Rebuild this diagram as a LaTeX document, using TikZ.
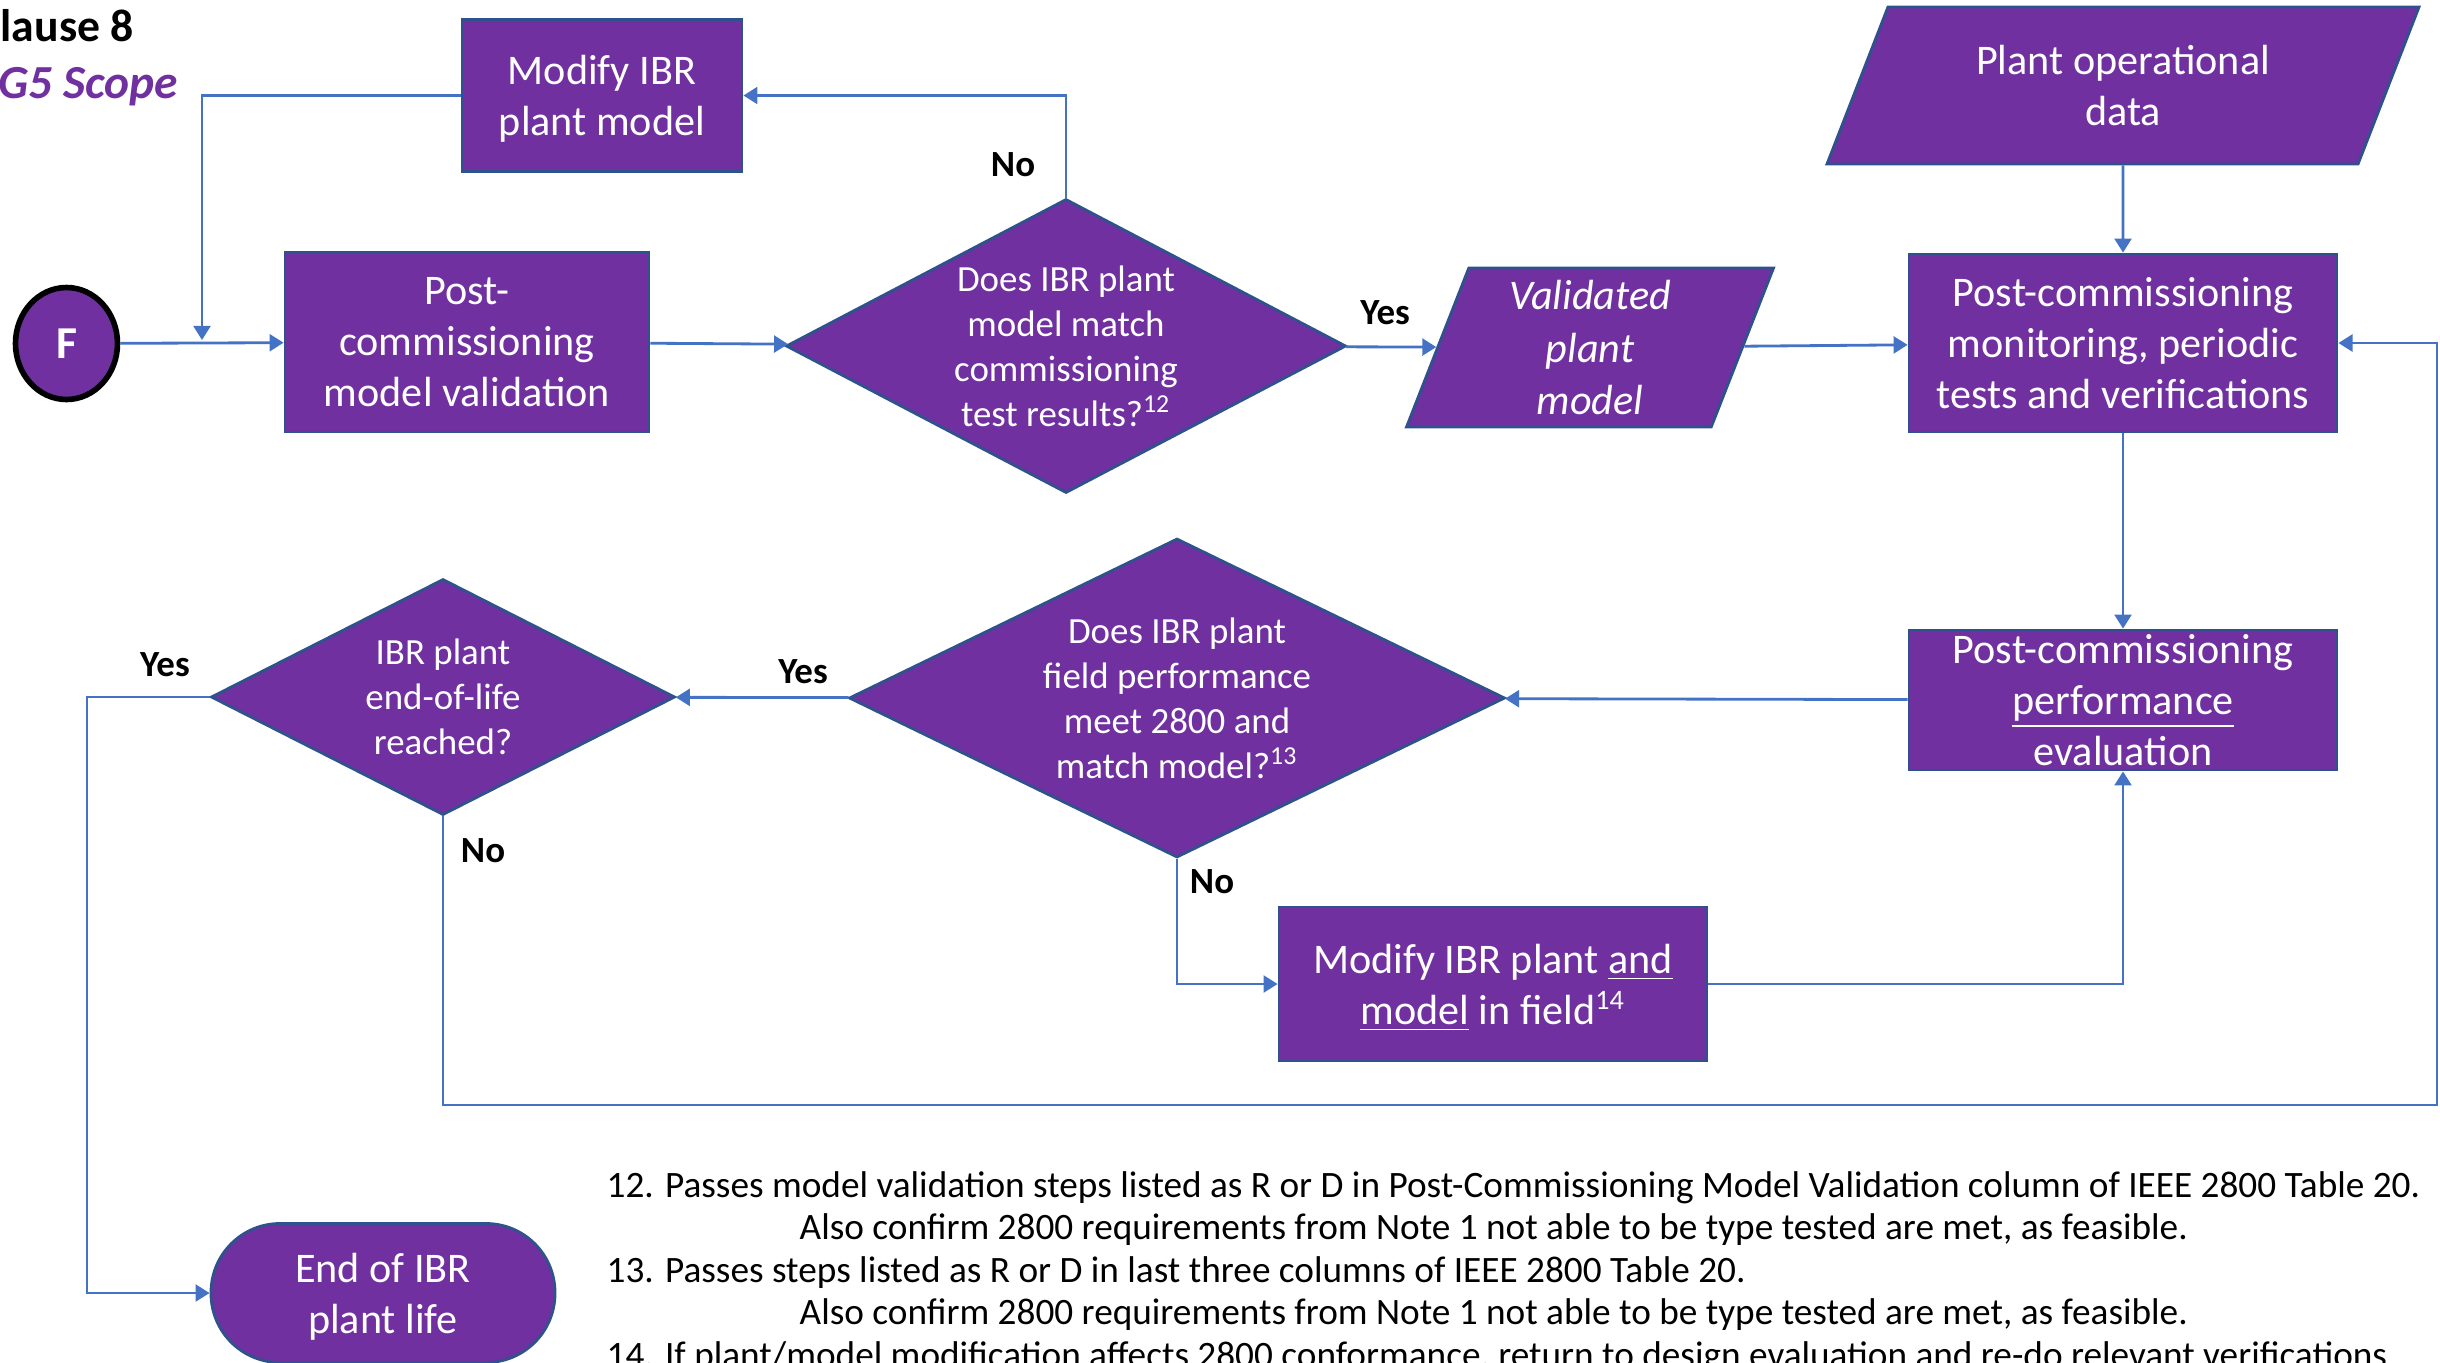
\documentclass[tikz,border=0pt]{standalone}
\usepackage{fontspec}
\setmainfont{Carlito}
\usepackage{tikz}
\usetikzlibrary{shapes.geometric,arrows.meta}
\definecolor{ibrpurple}{HTML}{7030A0}
\definecolor{boxedge}{HTML}{2F528F}
\definecolor{linkblue}{HTML}{4472C4}
\newcommand\fntbox{\fontsize{12}{14.6}\selectfont}
\newcommand\fntq{\fontsize{10.5}{12.8}\selectfont}
\newcommand\fntyn{\fontsize{10.5}{12.8}\selectfont\bfseries}
\newcommand\fntnote{\fontsize{10.6}{12.9}\selectfont}
\tikzset{%
  >={Triangle[length=4pt,width=4.8pt]}, % filled arrow tips
  procbox/.style={draw=boxedge, fill=ibrpurple, line width=0.8pt,
    text=white, font=\fntbox, align=center, inner sep=0pt, text depth=0pt},
  decision/.style={diamond, draw=boxedge, fill=ibrpurple, line width=0.8pt,
    inner sep=0pt},
  dataio/.style={trapezium, trapezium stretches body, draw=boxedge,
    fill=ibrpurple, line width=0.8pt, text=white, font=\fntbox,
    align=center, inner sep=0pt},
  terminal/.style={procbox, rounded corners=0.69cm},
  qtext/.style={text=white, font=\fntq, align=center, inner sep=0pt},
  boxtext/.style={text=white, font=\fntbox, align=center, inner sep=0pt},
  conn/.style={draw=linkblue, line width=0.8pt, ->},
  yesno/.style={font=\fntyn, inner sep=0pt},
  note/.style={anchor=base west, font=\fntnote, inner sep=0pt}
}

\begin{document}
\begin{tikzpicture}
    \useasboundingbox (0,0) rectangle (24.4,-13.62);
    % heading
    \node[anchor=base west, inner sep=0pt, font=\fontsize{13}{15}\selectfont\bfseries] (clause) at (0,-0.41) {lause 8};
    \node[anchor=base west, inner sep=0pt, text=ibrpurple, font=\fontsize{13.5}{16}\selectfont\bfseries\itshape] (scope) at (-0.02,-0.98) {G5 Scope};

    % upper row
    \node[ellipse, draw=black, line width=1.6pt, fill=ibrpurple, minimum width=1.02cm, minimum height=1.12cm, inner sep=0pt, text=white, font=\fontsize{13}{15}\selectfont\bfseries] (F) at (0.665,-3.435) {F};
    \node[procbox, minimum width=2.80cm, minimum height=1.52cm] (modm) at (6.02,-0.955) {Modify IBR\\plant model};
    \node[procbox, minimum width=3.64cm, minimum height=1.80cm] (pcmv) at (4.67,-3.42) {Post-\\commissioning\\model validation};
    \node[decision, minimum width=5.60cm, minimum height=2.94cm,
      label={[qtext]center:{Does IBR plant\\model match\\commissioning\\test results?\textsuperscript{12}}}] (q1) at (10.66,-3.46) {};
    \node[dataio, trapezium left angle=65, trapezium right angle=115, minimum width=3.67cm, minimum height=1.59cm,
      font=\fontsize{12}{14.8}\selectfont\itshape] (val) at (15.9,-3.475) {Validated\\plant\\model};
    \node[dataio, trapezium left angle=53, trapezium right angle=127, minimum width=5.92cm, minimum height=1.57cm] (pod) at (21.23,-0.855) {Plant operational\\data};
    \node[procbox, minimum width=4.28cm, minimum height=1.78cm] (mon) at (21.23,-3.43) {Post-commissioning\\monitoring, periodic\\tests and verifications};

    % lower row
    \node[procbox, minimum width=4.28cm, minimum height=1.40cm,
      label={[boxtext]center:{Post-commissioning\\\underline{performance}\\evaluation}}] (perf) at (21.23,-7.00) {};
    \node[decision, minimum width=6.56cm, minimum height=3.19cm,
      label={[qtext]center:{Does IBR plant\\field performance\\meet 2800 and\\match model?\textsuperscript{13}}}] (q2) at (11.77,-6.98) {};
    \node[decision, minimum width=4.64cm, minimum height=2.36cm,
      label={[qtext]center:{IBR plant\\end-of-life\\reached?}}] (q3) at (4.43,-6.97) {};
    \node[procbox, minimum width=4.28cm, minimum height=1.54cm] (mfield) at (14.93,-9.84) {Modify IBR plant \underline{and}\\\underline{model} in field\textsuperscript{14}};
    \node[terminal, minimum width=3.44cm, minimum height=1.39cm] (endl) at (3.83,-12.93) {End of IBR\\plant life};

    % free bends
    \coordinate (mjoin) at (2.02,-3.40);
    \coordinate (lrail) at (0.87,-6.97);
    \coordinate (rrail) at (24.37,-11.05);

    % connectors
    \draw[conn] (F) -- (pcmv);
    \draw[conn] (pcmv) -- (q1);
    \draw[conn] (q1.north) |- (modm.east);
    \draw[conn] (modm.west) -| (mjoin);
    \draw[conn] (q1) -- (val);
    \draw[conn] (val) -- (mon);
    \draw[conn] (pod) -- (mon);
    \draw[conn] (mon) -- (perf);
    \draw[conn] (perf) -- (q2);
    \draw[conn] (q2) -- (q3);
    \draw[conn] (q3.west) -- (lrail) |- (endl.west);
    \draw[conn] (q2.south) |- (mfield.west);
    \draw[conn] (mfield.east) -| (perf.south);
    \draw[conn] (q3.south) |- (rrail) |- (mon.east);

    % branch labels
    \node[yesno] (no1) at (10.13,-1.65) {No};
    \node[yesno] (yes1) at (13.85,-3.13) {Yes};
    \node[yesno] (yes2) at (8.03,-6.72) {Yes};
    \node[yesno] (yes3) at (1.65,-6.65) {Yes};
    \node[yesno] (no3) at (4.83,-8.51) {No};
    \node[yesno] (no2) at (12.12,-8.82) {No};

    % footnotes
    \foreach \dx/\t [count=\i] in {
      0/{12. Passes model validation steps listed as R or D in Post-Commissioning Model Validation column of IEEE 2800 Table 20.},
      1.93/{Also confirm 2800 requirements from Note 1 not able to be type tested are met, as feasible.},
      0/{13. Passes steps listed as R or D in last three columns of IEEE 2800 Table 20.},
      1.93/{Also confirm 2800 requirements from Note 1 not able to be type tested are met, as feasible.},
      0/{14. If plant/model modification affects 2800 conformance, return to design evaluation and re-do relevant verifications}}
      \node[note] (note\i) at ({6.06+\dx},{-11.97-0.425*(\i-1)}) {\t};
\end{tikzpicture}
\end{document}
